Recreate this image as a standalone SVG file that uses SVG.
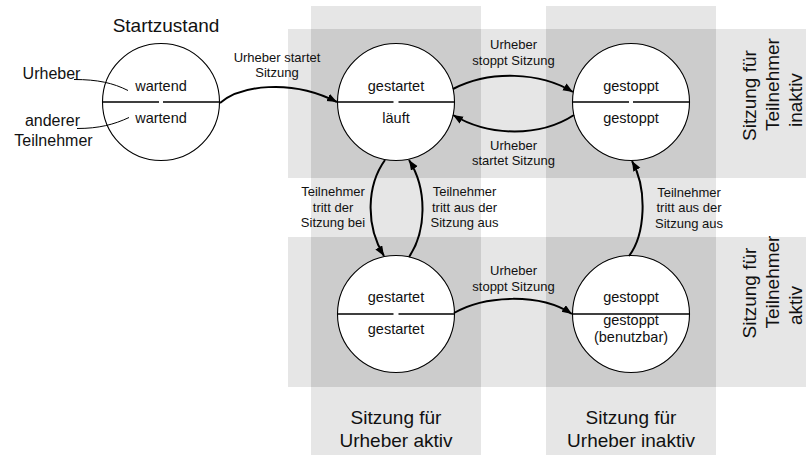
<svg xmlns="http://www.w3.org/2000/svg" width="806" height="455" viewBox="0 0 806 455">
<defs>
<style>
.band{fill:#e6e6e6}
.over{fill:#cccccc}
.state{fill:#fff;stroke:#000;stroke-width:1.1}
.div{stroke:#000;stroke-width:1.3;fill:none}
.conn{fill:none;stroke:#000;stroke-width:2}
.note{fill:none;stroke:#000;stroke-width:1}
text{font-family:"Liberation Sans",Arial,sans-serif;fill:#111}
.sl{font-size:14.5px;text-anchor:middle}
.el{font-size:13px;text-anchor:middle}
.ti{font-size:19px;text-anchor:middle}
.rt{font-size:19px;text-anchor:start}
.pl{font-size:16px;text-anchor:middle}
</style>
<marker id="arr" markerUnits="userSpaceOnUse" markerWidth="11" markerHeight="9" refX="10" refY="4" orient="auto">
<path d="M0,0 L10,4 L0,8 z" fill="#000"/>
</marker>
</defs>
<g id="background">
<rect class="band" x="311" y="6" width="170" height="449"/>
<rect class="band" x="546" y="6" width="170" height="449"/>
<rect class="band" x="288" y="29" width="518" height="149"/>
<rect class="band" x="288" y="237" width="518" height="150"/>
<rect class="over" x="311" y="29" width="170" height="149"/>
<rect class="over" x="546" y="29" width="170" height="149"/>
<rect class="over" x="311" y="237" width="170" height="150"/>
<rect class="over" x="546" y="237" width="170" height="150"/>
</g>
<g id="region-labels">
<text class="ti" x="396" y="424">Sitzung für</text>
<text class="ti" x="396" y="447">Urheber aktiv</text>
<text class="ti" x="631" y="424">Sitzung für</text>
<text class="ti" x="631" y="447">Urheber inaktiv</text>
<text class="rt" transform="translate(755.5,141) rotate(-90)">Sitzung für</text>
<text class="rt" transform="translate(778.5,131) rotate(-90)">Teilnehmer</text>
<text class="rt" transform="translate(801.5,127) rotate(-90)">inaktiv</text>
<text class="rt" transform="translate(755.5,338.5) rotate(-90)">Sitzung für</text>
<text class="rt" transform="translate(778.5,328.5) rotate(-90)">Teilnehmer</text>
<text class="rt" transform="translate(801.5,325) rotate(-90)">aktiv</text>
</g>
<g id="start">
<text class="ti" x="166" y="32">Startzustand</text>
<circle class="state" cx="161" cy="102" r="58.5"/>
<path class="div" d="M102.5,102 H159 M163,102 H219.5"/>
<text class="sl" x="161" y="91">wartend</text>
<text class="sl" x="161" y="122.5">wartend</text>
</g>
<g id="participant-labels">
<text class="pl" x="51.5" y="79">Urheber</text>
<text class="pl" x="52.5" y="125.5">anderer</text>
<text class="pl" x="53.5" y="145.5">Teilnehmer</text>
<path class="note" d="M74,79.5 C98,79.5 113,83 128,90.5"/>
<path class="note" d="M77,128.5 C99,128.5 114,124.5 129,117.5"/>
</g>
<g id="s-gestartet-laeuft">
<circle class="state" cx="396" cy="102" r="58.5"/>
<path class="div" d="M337.5,102 H393.5 M398.5,102 H454.5"/>
<text class="sl" x="396" y="91">gestartet</text>
<text class="sl" x="396" y="122.5">läuft</text>
</g>
<g id="s-gestoppt-gestoppt">
<circle class="state" cx="631" cy="102" r="58.5"/>
<path class="div" d="M572.5,102 H629 M633,102 H689.5"/>
<text class="sl" x="631" y="91">gestoppt</text>
<text class="sl" x="631" y="122.5">gestoppt</text>
</g>
<g id="s-gestartet-gestartet">
<circle class="state" cx="396" cy="314" r="58.5"/>
<path class="div" d="M337.5,314 H393.5 M398.5,314 H454.5"/>
<text class="sl" x="396" y="302">gestartet</text>
<text class="sl" x="396" y="333.5">gestartet</text>
</g>
<g id="s-gestoppt-benutzbar">
<circle class="state" cx="631" cy="314" r="58.5"/>
<path class="div" d="M572.5,314 H689.5"/>
<text class="sl" x="631" y="302">gestoppt</text>
<text class="sl" x="631" y="325">gestoppt</text>
<text class="sl" x="631" y="341.5">(benutzbar)</text>
</g>
<g id="connectors">
<path class="conn" marker-end="url(#arr)" d="M220,103 C240,86 290,78 337,102"/>
<path class="conn" marker-end="url(#arr)" d="M453,89 C490,70 540,72 573,92"/>
<path class="conn" marker-end="url(#arr)" d="M574,115 C540,137 490,137 453,115"/>
<path class="conn" marker-end="url(#arr)" d="M385,160 C367,185 365,225 384,256"/>
<path class="conn" marker-end="url(#arr)" d="M409,257 C426,232 428,190 409,160"/>
<path class="conn" marker-end="url(#arr)" d="M629,256 C645,235 648,190 632,161"/>
<path class="conn" marker-end="url(#arr)" d="M454,313 C485,295 540,293 572,314"/>
</g>
<g id="connector-labels">
<text class="el" x="277" y="62">Urheber startet</text>
<text class="el" x="277" y="77">Sitzung</text>
<text class="el" x="513.5" y="49">Urheber</text>
<text class="el" x="513.5" y="64.5">stoppt Sitzung</text>
<text class="el" x="513.5" y="149.5">Urheber</text>
<text class="el" x="513.5" y="165">startet Sitzung</text>
<text class="el" x="333" y="196">Teilnehmer</text>
<text class="el" x="333" y="211.5">tritt der</text>
<text class="el" x="333" y="227">Sitzung bei</text>
<text class="el" x="464.5" y="196">Teilnehmer</text>
<text class="el" x="464.5" y="211.5">tritt aus der</text>
<text class="el" x="464.5" y="227">Sitzung aus</text>
<text class="el" x="689" y="196.5">Teilnehmer</text>
<text class="el" x="689" y="212">tritt aus der</text>
<text class="el" x="689" y="228">Sitzung aus</text>
<text class="el" x="513.5" y="275">Urheber</text>
<text class="el" x="513.5" y="290.5">stoppt Sitzung</text>
</g>
</svg>
